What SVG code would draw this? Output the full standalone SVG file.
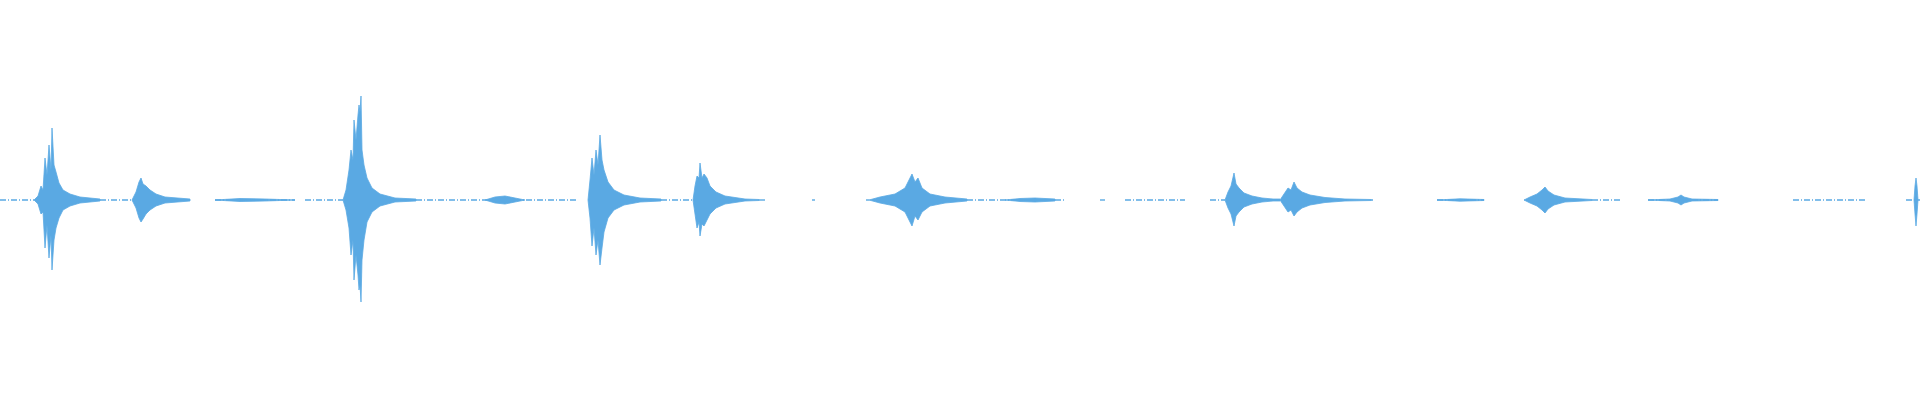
<svg xmlns="http://www.w3.org/2000/svg" width="1920" height="400" viewBox="0 0 1920 400">
<style>.w{fill:#5aa9e3;stroke:#5aa9e3;stroke-width:0.8}.b{stroke:#5aa9e3;stroke-width:1.4;stroke-dasharray:6 2 1 2}</style>
<rect width="1920" height="400" fill="#fff"/>
<g id="baseline">
<line class="b" x1="0" y1="200" x2="34" y2="200"/>
<line class="b" x1="100" y1="200" x2="132" y2="200"/>
<line class="b" x1="215" y1="200" x2="295" y2="200"/>
<line class="b" x1="305" y1="200" x2="343" y2="200"/>
<line class="b" x1="416" y1="200" x2="578" y2="200"/>
<line class="b" x1="661" y1="200" x2="693" y2="200"/>
<line class="b" x1="759" y1="200" x2="765" y2="200"/>
<line class="b" x1="812" y1="200" x2="815" y2="200"/>
<line class="b" x1="866" y1="200" x2="869" y2="200"/>
<line class="b" x1="967" y1="200" x2="1065" y2="200"/>
<line class="b" x1="1100" y1="200" x2="1105" y2="200"/>
<line class="b" x1="1125" y1="200" x2="1185" y2="200"/>
<line class="b" x1="1210" y1="200" x2="1225" y2="200"/>
<line class="b" x1="1371" y1="200" x2="1373" y2="200"/>
<line class="b" x1="1437" y1="200" x2="1484" y2="200"/>
<line class="b" x1="1524" y1="200" x2="1524" y2="200"/>
<line class="b" x1="1592" y1="200" x2="1620" y2="200"/>
<line class="b" x1="1648" y1="200" x2="1718" y2="200"/>
<line class="b" x1="1793" y1="200" x2="1866" y2="200"/>
<line class="b" x1="1906" y1="200" x2="1920" y2="200"/>
</g>
<g id="bursts">
<path class="w" d="M34,200 L38,196 L41,186 L43,190 L45,158 L47,175 L49,145 L51,170 L52,128 L54,165 L56,172 L59,183 L63,190 L70,194 L80,197 L100,199 L100,201 L80,203 L70,206 L63,210 L59,218 L56,228 L54,240 L52,270 L51,235 L49,258 L47,225 L45,248 L43,212 L41,214 L38,204 Z"/>
<path class="w" d="M132,200 L136,192 L139,182 L141,178 L143,184 L146,186 L150,190 L156,194 L165,197 L190,199 L190,201 L165,203 L156,206 L150,210 L146,214 L143,219 L141,222 L139,218 L136,208 Z"/>
<path class="w" d="M215,200 L240,198.5 L265,199 L295,200 L265,201 L240,201.5 Z"/>
<path class="w" d="M343,200 L346,190 L349,170 L351,150 L353,160 L354,120 L356,140 L358,115 L359,105 L360,112 L361,96 L362,150 L364,165 L367,178 L372,188 L380,194 L395,198 L416,199 L416,201 L395,202 L380,206 L372,212 L367,222 L364,240 L362,260 L361,302 L360,285 L359,290 L358,275 L356,255 L354,280 L353,240 L351,255 L349,228 L346,210 Z"/>
<path class="w" d="M485,200 L495,197 L505,196 L515,198 L525,200 L515,202 L505,204 L495,203 Z"/>
<path class="w" d="M588,200 L590,180 L592,158 L594,175 L596,150 L598,165 L600,135 L602,160 L604,170 L608,182 L614,190 L624,195 L640,198 L661,199 L661,201 L640,202 L624,205 L614,210 L608,218 L604,232 L602,248 L600,265 L598,240 L596,255 L594,228 L592,246 L590,218 Z"/>
<path class="w" d="M693,200 L695,186 L697,176 L699,178 L700,163 L702,178 L704,174 L707,178 L710,186 L716,192 L725,196 L745,199 L759,199.5 L759,200.5 L745,201 L725,204 L716,208 L710,214 L707,220 L704,226 L702,224 L700,236 L699,222 L697,228 L695,214 Z"/>
<path class="w" d="M869,200 L880,197 L895,194 L905,188 L909,180 L912,174 L915,182 L918,178 L922,188 L930,194 L945,197 L967,199 L967,201 L945,203 L930,206 L922,212 L918,220 L915,216 L912,226 L909,220 L905,212 L895,206 L880,203 Z"/>
<path class="w" d="M1005,200 L1020,198.5 L1035,198 L1055,199 L1055,201 L1035,202 L1020,201.5 Z"/>
<path class="w" d="M1225,200 L1228,192 L1231,186 L1234,173 L1236,184 L1239,188 L1244,193 L1252,196 L1262,198 L1273,199 L1280,199 L1280,201 L1273,201 L1262,202 L1252,204 L1244,207 L1239,212 L1236,216 L1234,226 L1231,214 L1228,208 Z"/>
<path class="w" d="M1280,200 L1284,194 L1288,188 L1291,190 L1294,182 L1297,188 L1302,192 L1310,195 L1325,197.5 L1345,199 L1371,199.5 L1371,200.5 L1345,201 L1325,202.5 L1310,205 L1302,208 L1297,212 L1294,216 L1291,210 L1288,212 L1284,206 Z"/>
<path class="w" d="M1437,200 L1460,198.8 L1484,199.5 L1484,200.5 L1460,201.2 Z"/>
<path class="w" d="M1524,200 L1530,197 L1537,194 L1542,190 L1545,187 L1548,191 L1554,195 L1565,198 L1592,199.5 L1592,200.5 L1565,202 L1554,205 L1548,209 L1545,213 L1542,210 L1537,206 L1530,203 Z"/>
<path class="w" d="M1648,200 L1670,199 L1678,197 L1681,195 L1684,197 L1692,199 L1718,199.5 L1718,200.5 L1692,201 L1684,203 L1681,205 L1678,203 L1670,201 Z"/>
<path class="w" d="M1914,200 L1915,186 L1916,178 L1917,186 L1918,200 L1917,214 L1916,226 L1915,214 Z"/>
</g>
</svg>
